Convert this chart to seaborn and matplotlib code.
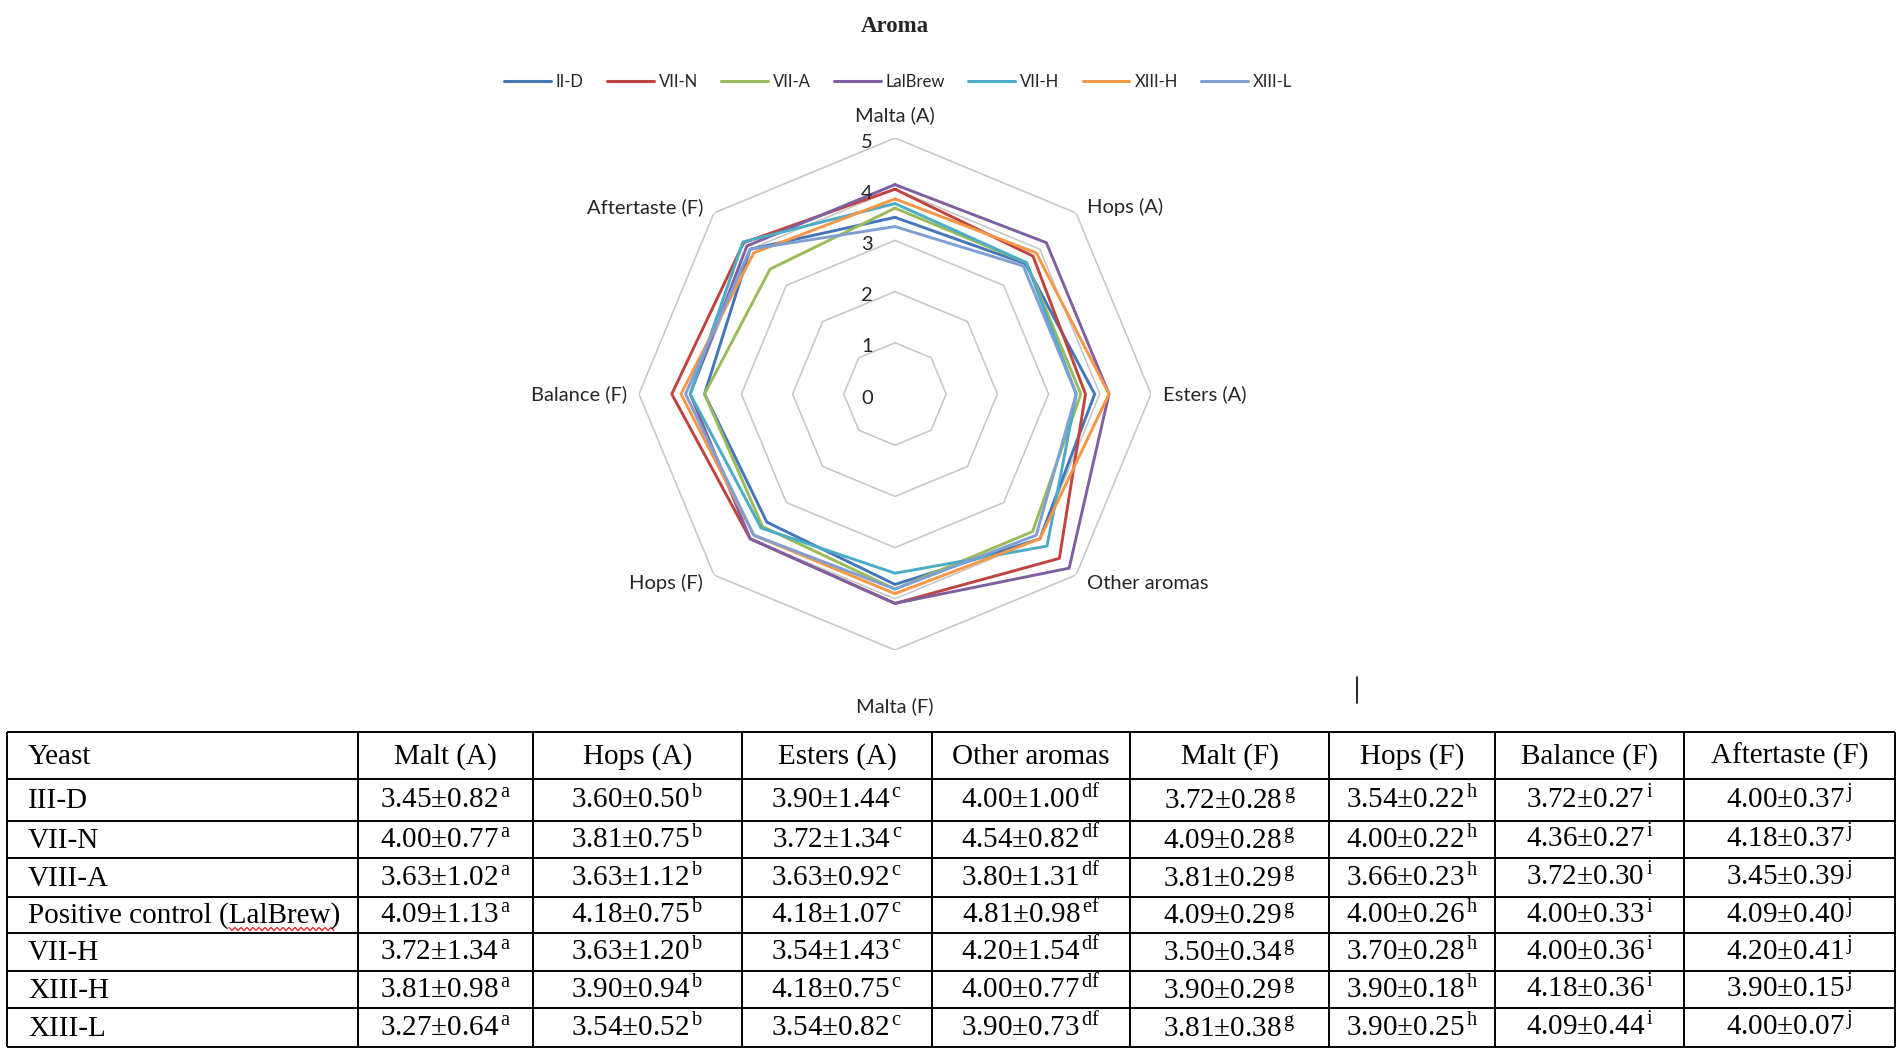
import numpy as np
import pandas as pd
import matplotlib
matplotlib.use("Agg")
import matplotlib.pyplot as plt
import seaborn as sns

# ---------------- data ----------------
legend_names = ["II-D", "VII-N", "VII-A", "LalBrew", "VII-H", "XIII-H", "XIII-L"]
table_names = ["III-D", "VII-N", "VIII-A", "Positive control (LalBrew)",
               "VII-H", "XIII-H", "XIII-L"]
radar_labels = ["Malta (A)", "Hops (A)", "Esters (A)", "Other aromas",
                "Malta (F)", "Hops (F)", "Balance (F)", "Aftertaste (F)"]
table_header = ["Yeast", "Malt (A)", "Hops (A)", "Esters (A)", "Other aromas",
                "Malt (F)", "Hops (F)", "Balance (F)", "Aftertaste (F)"]
grid_levels = [0, 1, 2, 3, 4, 5]

malt_a_mean = [3.45, 4.00, 3.63, 4.09, 3.72, 3.81, 3.27]
malt_a_sd = [0.82, 0.77, 1.02, 1.13, 1.34, 0.98, 0.64]
malt_a_sup = ["a"] * 7
hops_a_mean = [3.60, 3.81, 3.63, 4.18, 3.63, 3.90, 3.54]
hops_a_sd = [0.50, 0.75, 1.12, 0.75, 1.20, 0.94, 0.52]
hops_a_sup = ["b"] * 7
esters_a_mean = [3.90, 3.72, 3.63, 4.18, 3.54, 4.18, 3.54]
esters_a_sd = [1.44, 1.34, 0.92, 1.07, 1.43, 0.75, 0.82]
esters_a_sup = ["c"] * 7
other_mean = [4.00, 4.54, 3.80, 4.81, 4.20, 4.00, 3.90]
other_sd = [1.00, 0.82, 1.31, 0.98, 1.54, 0.77, 0.73]
other_sup = ["df", "df", "df", "ef", "df", "df", "df"]
malt_f_mean = [3.72, 4.09, 3.81, 4.09, 3.50, 3.90, 3.81]
malt_f_sd = [0.28, 0.28, 0.29, 0.29, 0.34, 0.29, 0.38]
malt_f_sup = ["g"] * 7
hops_f_mean = [3.54, 4.00, 3.66, 4.00, 3.70, 3.90, 3.90]
hops_f_sd = [0.22, 0.22, 0.23, 0.26, 0.28, 0.18, 0.25]
hops_f_sup = ["h"] * 7
balance_mean = [3.72, 4.36, 3.72, 4.00, 4.00, 4.18, 4.09]
balance_sd = [0.27, 0.27, 0.30, 0.33, 0.36, 0.36, 0.44]
balance_sup = ["i"] * 7
after_mean = [4.00, 4.18, 3.45, 4.09, 4.20, 3.90, 4.00]
after_sd = [0.37, 0.37, 0.39, 0.40, 0.41, 0.15, 0.07]
after_sup = ["j"] * 7

means = [malt_a_mean, hops_a_mean, esters_a_mean, other_mean,
         malt_f_mean, hops_f_mean, balance_mean, after_mean]
sds = [malt_a_sd, hops_a_sd, esters_a_sd, other_sd,
       malt_f_sd, hops_f_sd, balance_sd, after_sd]
sups = [malt_a_sup, hops_a_sup, esters_a_sup, other_sup,
        malt_f_sup, hops_f_sup, balance_sup, after_sup]

colors = ["#4575BB", "#C0433F", "#9BBB59", "#7E5FA2", "#4BACC6", "#F79646", "#7F9FD3"]

# ---------------- style ----------------
sns.set_theme(style="white")
plt.rcParams["font.family"] = ["Lato", "DejaVu Sans"]
plt.rcParams["mathtext.fontset"] = "custom"
plt.rcParams["mathtext.rm"] = "Liberation Serif"
plt.rcParams["mathtext.it"] = "Liberation Serif:italic"
plt.rcParams["mathtext.bf"] = "Liberation Serif:bold"

W, H = 1902, 1053
fig = plt.figure(figsize=(W / 100, H / 100), dpi=100)
fig.patch.set_facecolor("white")

# background overlay axes in pixel coordinates (table etc.)
ax_bg = fig.add_axes([0, 0, 1, 1])
ax_bg.set_xlim(0, W)
ax_bg.set_ylim(H, 0)
ax_bg.axis("off")

# ---------------- radar ----------------
cx, cy, R = 895, 394, 256
ax_r = fig.add_axes([(cx - R) / W, 1 - (cy + R) / H, 2 * R / W, 2 * R / H],
                    projection="polar")
ax_r.set_facecolor("none")
ax_r.set_theta_zero_location("N")
ax_r.set_theta_direction(-1)

n = len(radar_labels)
theta = np.linspace(0, 2 * np.pi, n + 1)

rows = []
for j, name in enumerate(legend_names):
    vals = [m[j] for m in means]
    vals = vals + vals[:1]
    for t, v in zip(theta, vals):
        rows.append({"yeast": name, "theta": t, "score": v})
df = pd.DataFrame(rows)

for lvl in grid_levels[1:]:
    ax_r.plot(theta, [lvl] * (n + 1), color="#C4C4C4", lw=1.1, zorder=0)

sns.lineplot(data=df, x="theta", y="score", hue="yeast", hue_order=legend_names,
             palette=colors, sort=False, estimator=None, lw=2.1, ax=ax_r)

ax_r.set_ylim(0, 5)
ax_r.grid(False)
ax_r.spines["polar"].set_visible(False)
ax_r.set_xticks([])
ax_r.set_yticks([])
ax_r.set_xlabel("")
ax_r.set_ylabel("")

leg = ax_r.get_legend()
handles = list(leg.legend_handles)
labels = [t.get_text() for t in leg.get_texts()]
leg.remove()
for h in handles:
    h.set_linewidth(2.2)
fig.legend(handles, labels, loc="center", bbox_to_anchor=(898 / W, 1 - 82 / H),
           ncol=7, frameon=False, fontsize=12, handlelength=2.8,
           handletextpad=0.3, columnspacing=1.4)

# category labels
offsets = [(0, 23), (11, 6), (12, 0), (11, -8), (0, -56), (-11, -8), (-12, 0), (-11, 6)]
aligns = ["center", "left", "left", "left", "center", "right", "right", "right"]
for k, lab in enumerate(radar_labels):
    ax_r.annotate(lab, xy=(theta[k], 5), xytext=offsets[k], textcoords="offset pixels",
                  ha=aligns[k], va="center", fontsize=14.5, color="#262626",
                  annotation_clip=False)

# radial value labels
for lvl in grid_levels:
    ax_r.annotate(str(lvl), xy=(0, lvl), xytext=(-22, -4), textcoords="offset pixels",
                  ha="right", va="center", fontsize=14.5, color="#262626",
                  annotation_clip=False)

fig.text(cx / W, 1 - 26 / H, "Aroma", ha="center", va="center",
         family="Liberation Serif", weight="bold", fontsize=16.5)

# ---------------- table ----------------
col_edges = [7, 358, 533, 742, 932, 1130, 1329, 1495, 1684, 1895]
row_edges = [732, 779, 821, 858, 897, 933, 971, 1008, 1047]
ax_bg.hlines(row_edges, col_edges[0], col_edges[-1], color="black", lw=1.4)
ax_bg.vlines(col_edges, row_edges[0], row_edges[-1], color="black", lw=1.4)

tfont = dict(family="Liberation Serif", fontsize=21, color="black", va="baseline")
base_off = 8


def row_y(i):
    return (row_edges[i] + row_edges[i + 1]) / 2 + base_off


ax_bg.text(28, row_y(0), table_header[0], ha="left", **tfont)
for c in range(1, len(table_header)):
    xc = (col_edges[c] + col_edges[c + 1]) / 2
    ax_bg.text(xc, row_y(0), table_header[c], ha="center", **tfont)

for i, name in enumerate(table_names):
    ax_bg.text(28, row_y(i + 1), name, ha="left", **tfont)
    for c in range(len(means)):
        xc = (col_edges[c + 1] + col_edges[c + 2]) / 2
        s = f"{means[c][i]:.2f}±{sds[c][i]:.2f}" + r"$^{\,\mathrm{" + sups[c][i] + "}}$"
        ax_bg.text(xc, row_y(i + 1), s, ha="center", **tfont)

# spell-check squiggle under "LalBrew"
zx = np.arange(229, 335, 3.0)
zy = 929 + 1.6 * np.where(np.arange(len(zx)) % 2 == 0, -1, 1)
ax_bg.plot(zx, zy, color="#E02020", lw=0.9)

# text cursor mark
ax_bg.plot([1357, 1357], [677, 703], color="black", lw=1.2)

fig.savefig("out.png", dpi=100, facecolor="white")
